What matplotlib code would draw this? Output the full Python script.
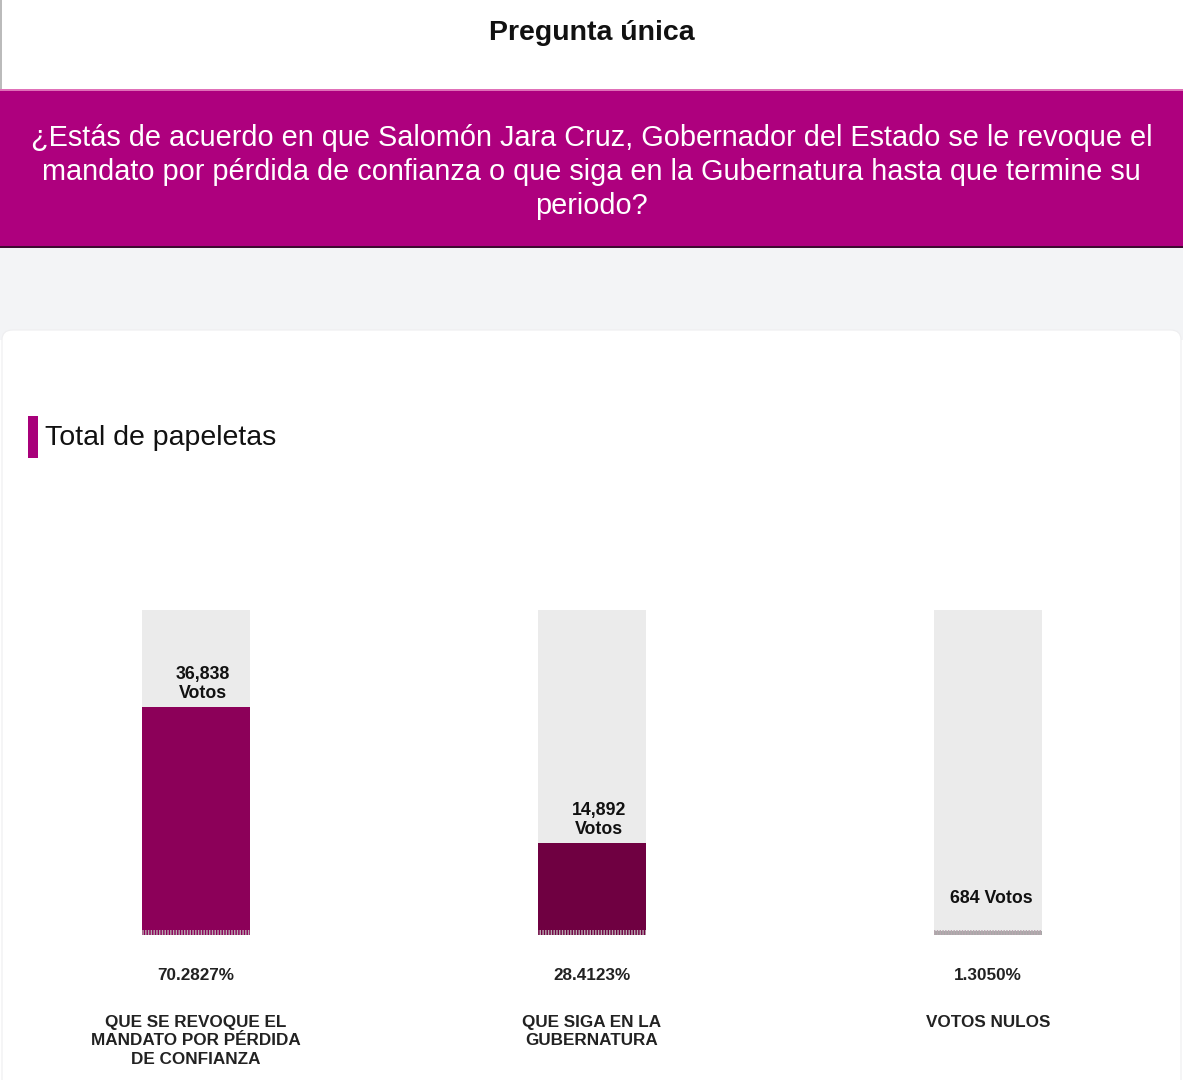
import matplotlib
matplotlib.use("Agg")
import matplotlib.pyplot as plt
from matplotlib.patches import Rectangle, FancyBboxPatch

plt.rcParams['font.family'] = ['Liberation Sans', 'DejaVu Sans']

# ---- data ----
categories = ["QUE SE REVOQUE EL\nMANDATO POR PÉRDIDA\nDE CONFIANZA",
              "QUE SIGA EN LA\nGUBERNATURA",
              "VOTOS NULOS"]
votes = [36838, 14892, 684]
percentages = [70.2827, 28.4123, 1.3050]
bar_colors = ["#8C0059", "#6F0041", "#A8A8A8"]

title = "Pregunta única"
question = ("¿Estás de acuerdo en que Salomón Jara Cruz, Gobernador del Estado se le revoque el\n"
            "mandato por pérdida de confianza o que siga en la Gubernatura hasta que termine su\n"
            "periodo?")
section = "Total de papeletas"

W, H = 1183, 1080
fig = plt.figure(figsize=(W / 100, H / 100), dpi=100, facecolor="white")

def fx(px):
    return px / W

def fy(px):
    return 1 - px / H

# light grey strip between banner and card
fig.patches.append(Rectangle((0, fy(340)), 1, (340 - 248) / H, transform=fig.transFigure,
                             facecolor="#F3F4F6", edgecolor="none", zorder=0))
# white card with rounded top
fig.patches.append(FancyBboxPatch((fx(2), fy(1200)), fx(1179), (1200 - 330) / H,
                                  boxstyle="round,pad=0,rounding_size=0.009",
                                  transform=fig.transFigure, facecolor="white",
                                  edgecolor="#EEEEF0", linewidth=0.8, zorder=0.5))
# magenta banner
fig.patches.append(Rectangle((0, fy(248)), 1, (248 - 89) / H, transform=fig.transFigure,
                             facecolor="#AE007E", edgecolor="none", zorder=1))
fig.patches.append(Rectangle((0, fy(248)), 1, 2.5 / H, transform=fig.transFigure,
                             facecolor="#3E0A30", edgecolor="none", zorder=1.1))
fig.patches.append(Rectangle((0, fy(91)), 1, 2 / H, transform=fig.transFigure,
                             facecolor="#E070B8", edgecolor="none", zorder=1.1))
# left edge line on top area
fig.patches.append(Rectangle((0, fy(89)), 2 / W, 89 / H, transform=fig.transFigure,
                             facecolor="#BBBBBB", edgecolor="none", zorder=1))

fig.text(0.5, fy(33), title, ha="center", va="center", fontsize=20.5,
         fontweight="bold", color="#111111")
fig.text(0.5, fy(172), question, ha="center", va="center", fontsize=20.8,
         color="white", linespacing=1.28)

# section header
fig.patches.append(Rectangle((fx(28), fy(458)), 10 / W, 42 / H, transform=fig.transFigure,
                             facecolor="#A8007A", edgecolor="none", zorder=2))
fig.text(fx(45), fy(438), section, ha="left", va="center", fontsize=20.5, color="#111111")

# ---- bars ----
ax = fig.add_axes([0, fy(935), 1, (935 - 610) / H])
ax.set_zorder(5)
ax.patch.set_visible(False)
ax.set_xlim(-196 / 396, (W - 196) / 396)
ax.set_ylim(0, 100)
ax.axis("off")

x = list(range(len(categories)))
bw = 108 / 396
ax.bar(x, [100] * len(x), width=bw, color="#EBEBEB", zorder=1)
ax.bar(x, percentages, width=bw, color=bar_colors, zorder=2)
# hatched fringe at bar base
ax.bar(x, [1.6] * len(x), width=bw, color="none", edgecolor="#B8A8B0",
       hatch="||||||", linewidth=0, zorder=3)

for xi, p, v in zip(x, percentages, votes):
    two_lines = v >= 10000
    lab = f"{v:,}\nVotos" if two_lines else f"{v:,} Votos"
    ax.annotate(lab, (xi, max(p, 7.0) + 1.5), xytext=(5 if two_lines else 2.5, 0),
                textcoords="offset points", ha="center", va="bottom", fontsize=12.8,
                fontweight="bold", color="#111111", linespacing=1.15, zorder=4)

# percentages and category labels
for xi, p, c in zip(x, percentages, categories):
    fig.text(fx(196 + 396 * xi), fy(975), f"{p:.4f}%", ha="center", va="center",
             fontsize=12.3, fontweight="bold", color="#222222", zorder=6)
    fig.text(fx(196 + 396 * xi), fy(1015), c, ha="center", va="top",
             fontsize=12.3, fontweight="bold", color="#222222", linespacing=1.28, zorder=6)

fig.savefig("out.png", dpi=100, facecolor="white")
